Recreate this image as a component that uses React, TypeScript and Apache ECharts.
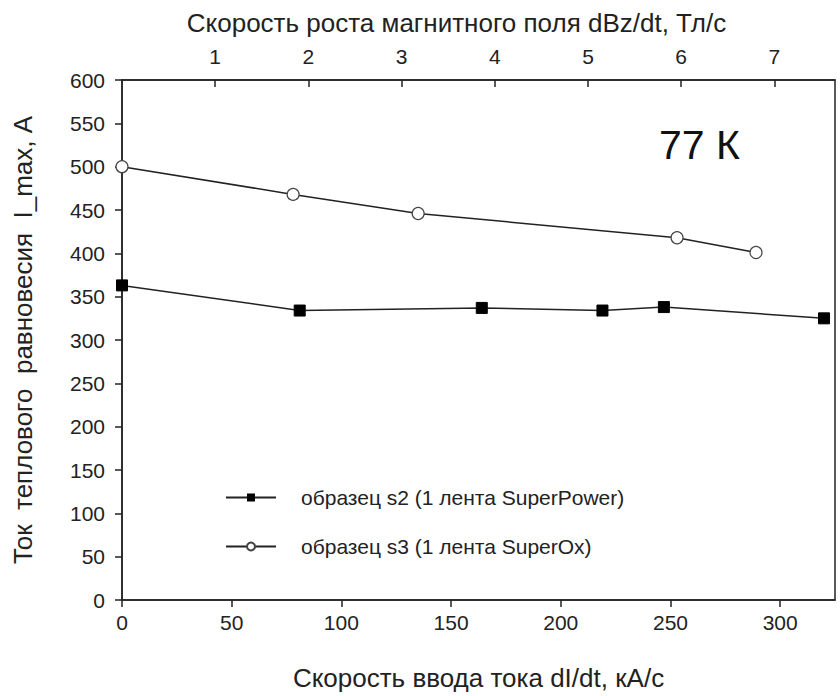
import React, { useEffect, useRef } from "react";
import * as echarts from "echarts";

const s2X = [0, 81, 164, 219, 247, 320];
const s2Y = [363, 334, 337, 334, 338, 325];
const s3X = [0, 78, 135, 253, 289];
const s3Y = [500, 468, 446, 418, 401];
const s2Name = "образец s2 (1 лента SuperPower)";
const s3Name = "образец s3 (1 лента SuperOx)";
const xTitle = "Скорость ввода тока dI/dt, кА/с";
const x2Title = "Скорость роста магнитного поля dBz/dt, Тл/с";
const yTitle = "Ток  теплового  равновесия  I_max, А";
const tempLabel = "77 К";

const FONT = "'Liberation Sans', Arial, sans-serif";
const INK = "#222";

export default function App() {
  const ref = useRef<HTMLDivElement>(null);
  useEffect(() => {
    if (!ref.current) return;
    const chart = echarts.init(ref.current, null, { renderer: "svg" });
    const lineAxis = { show: true, lineStyle: { color: INK, width: 1.5 } };
    const labelStyle = { color: INK, fontSize: 21, fontFamily: FONT };
    const titleStyle = { color: INK, fontSize: 26, fontFamily: FONT };
    chart.setOption({
      animation: false,
      backgroundColor: "#fff",
      textStyle: { fontFamily: FONT },
      grid: {
        left: 122,
        right: 5,
        top: 80,
        bottom: 92,
        show: true,
        borderColor: INK,
        borderWidth: 1.5,
      },
      legend: {
        orient: "vertical",
        left: 220,
        top: 482,
        itemWidth: 50,
        itemHeight: 10,
        itemGap: 28,
        textStyle: { color: INK, fontSize: 21, fontFamily: FONT, padding: [0, 0, 0, 20] },
        data: [s2Name, s3Name],
      },
      xAxis: [
        {
          type: "value",
          position: "bottom",
          min: 0,
          max: 325,
          interval: 50,
          axisLine: lineAxis,
          axisTick: { show: true, inside: false, length: 7, lineStyle: { color: INK, width: 1.5 } },
          axisLabel: { ...labelStyle, margin: 12, showMaxLabel: false },
          splitLine: { show: false },
          name: xTitle,
          nameLocation: "middle",
          nameGap: 65,
          nameTextStyle: titleStyle,
        },
        {
          type: "value",
          position: "top",
          min: 0,
          max: 7.65,
          interval: 1,
          axisLine: lineAxis,
          axisTick: { show: true, inside: true, length: 7, lineStyle: { color: INK, width: 1.5 } },
          axisLabel: { ...labelStyle, margin: 13, showMinLabel: false, showMaxLabel: false },
          splitLine: { show: false },
          name: x2Title,
          nameLocation: "middle",
          nameGap: 44,
          nameTextStyle: { ...titleStyle, padding: [0, 44, 0, 0] },
        },
      ],
      yAxis: {
        type: "value",
        min: 0,
        max: 600,
        interval: 50,
        axisLine: lineAxis,
        axisTick: { show: true, inside: false, length: 7, lineStyle: { color: INK, width: 1.5 } },
        axisLabel: { ...labelStyle, margin: 17 },
        splitLine: { show: false },
        name: yTitle,
        nameLocation: "middle",
        nameGap: 86,
        nameTextStyle: titleStyle,
      },
      series: [
        {
          name: s2Name,
          type: "line",
          xAxisIndex: 0,
          data: s2X.map((x, i) => [x, s2Y[i]]),
          symbol: "rect",
          symbolSize: 11,
          lineStyle: { color: INK, width: 1.5 },
          itemStyle: { color: "#000", borderColor: "#000" },
        },
        {
          name: s3Name,
          type: "line",
          xAxisIndex: 0,
          data: s3X.map((x, i) => [x, s3Y[i]]),
          symbol: "circle",
          symbolSize: 12,
          lineStyle: { color: INK, width: 1.5 },
          itemStyle: { color: "#fff", borderColor: "#444", borderWidth: 1.2 },
        },
      ],
      graphic: [
        {
          type: "text",
          left: 659,
          top: 124,
          style: { text: tempLabel, fontSize: 41, fontFamily: FONT, fill: "#111" },
        },
      ],
    });
    return () => chart.dispose();
  }, []);
  return <div ref={ref} style={{ width: 840, height: 696, position: "absolute", left: 0, top: 0 }} />;
}
